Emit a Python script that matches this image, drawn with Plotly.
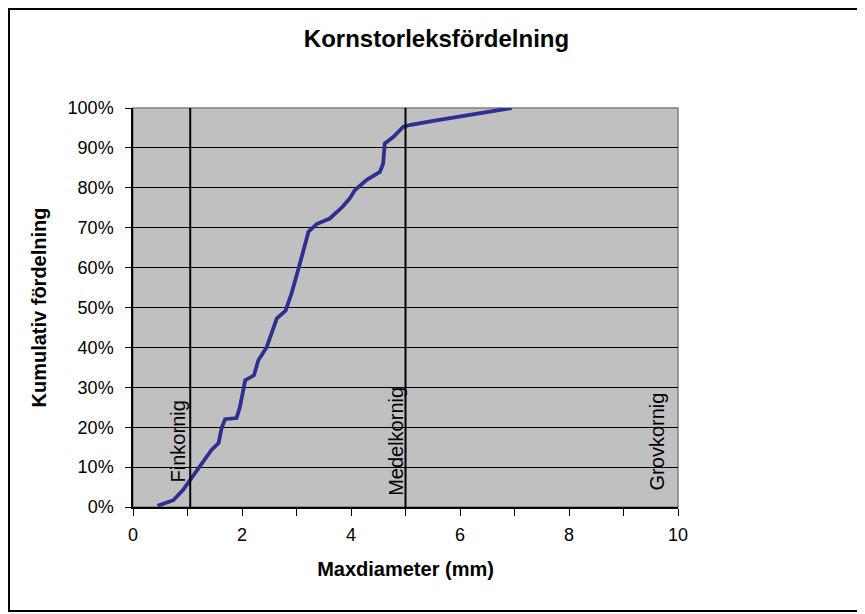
import plotly.graph_objects as go

# Kornstorlek (mm) och kumulativ andel (%)
diameter = [0.45, 0.74, 0.92, 1.05, 1.23, 1.35, 1.44, 1.57, 1.63, 1.69, 1.90, 1.96,
            2.06, 2.22, 2.30, 2.45, 2.64, 2.80, 2.91, 3.03, 3.10, 3.22, 3.37, 3.61,
            3.85, 3.98, 4.07, 4.29, 4.53, 4.59, 4.62, 4.78, 4.96, 5.10, 5.51, 6.12, 6.95]
kumulativ = [0.3, 1.7, 4.3, 6.8, 10.0, 12.6, 14.3, 16.0, 20.0, 22.0, 22.3, 25.0,
             31.8, 33.0, 36.8, 40.0, 47.3, 49.2, 53.6, 59.4, 62.7, 69.0, 70.9, 72.3,
             75.3, 77.4, 79.4, 82.0, 84.0, 86.1, 91.1, 92.8, 95.3, 95.8, 96.8, 98.2, 100.0]

# Klassgränser och etiketter
grans_x = [1.05, 5.0]
klass_namn = ['Finkornig', 'Medelkornig', 'Grovkornig']
klass_x = [0.83, 4.82, 9.62]
klass_y = 16.5

FONT = 'Liberation Sans, Arial, sans-serif'

fig = go.Figure()

fig.add_trace(go.Scatter(
    x=diameter, y=kumulativ, mode='lines',
    line=dict(color='#2f2f91', width=3.8),
    showlegend=False, hoverinfo='x+y'
))

# Vertikala gränslinjer
for gx in grans_x:
    fig.add_shape(type='line', xref='x', yref='paper', x0=gx, x1=gx, y0=0, y1=1,
                  line=dict(color='black', width=2), layer='above')

# Klassetiketter
for namn, lx in zip(klass_namn, klass_x):
    fig.add_annotation(x=lx, y=klass_y, xref='x', yref='y', text=namn,
                       textangle=-90, showarrow=False, xanchor='center', yanchor='middle',
                       font=dict(family=FONT, size=20, color='black'))

# Ram runt plotytan (grå) och runt hela diagrammet (svart)
fig.add_shape(type='rect', xref='paper', yref='paper', x0=0, x1=1, y0=0, y1=1,
              line=dict(color='#808080', width=1.5), layer='below')
fig.add_shape(type='rect', xref='paper', yref='paper', x0=-0.2275, x1=1.3376, y0=-0.2607, y1=1.248,
              line=dict(color='black', width=2))

# sidan har 8 px marginal i webbläsaren, därför 857x606
fig.update_layout(
    width=857, height=606,
    margin=dict(l=125, r=187, t=100, b=107),
    paper_bgcolor='white',
    plot_bgcolor='#c0c0c0',
    font=dict(family=FONT, color='black'),
    title=dict(text='Kornstorleksfördelning', x=0.5, xanchor='center',
               y=0.95, yanchor='middle',
               font=dict(family=FONT, size=24, color='black', weight='bold')),
)

fig.update_xaxes(
    range=[0, 10], dtick=2, tick0=0,
    showgrid=False, zeroline=False,
    showline=True, linecolor='black', linewidth=1.5,
    ticks='outside', ticklen=7, tickcolor='black',
    minor=dict(dtick=1, ticks='outside', ticklen=7, tickcolor='black', showgrid=False),
    tickfont=dict(family=FONT, size=18, color='black'),
    ticklabelstandoff=4,
    title=dict(text='Maxdiameter (mm)', standoff=18,
               font=dict(family=FONT, size=20, color='black', weight='bold')),
)

fig.update_yaxes(
    range=[0, 100], dtick=10, ticksuffix='%',
    showgrid=True, gridcolor='black', gridwidth=1,
    zeroline=False,
    showline=True, linecolor='black', linewidth=1.5,
    ticks='outside', ticklen=6, tickcolor='black',
    tickfont=dict(family=FONT, size=18, color='black'),
    ticklabelstandoff=8,
    title=dict(text='Kumulativ fördelning', standoff=16,
               font=dict(family=FONT, size=20, color='black', weight='bold')),
)

fig.write_html("out.html")
